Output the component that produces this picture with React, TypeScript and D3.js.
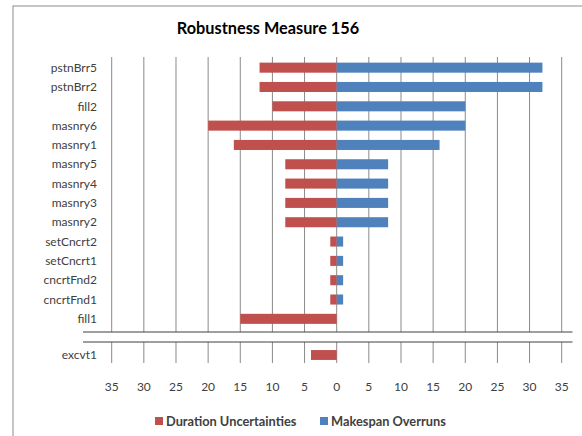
import React from "react";
import * as d3 from "d3";

const upperCategories = [
  "pstnBrr5", "pstnBrr2", "fill2", "masnry6", "masnry1", "masnry5", "masnry4",
  "masnry3", "masnry2", "setCncrt2", "setCncrt1", "cncrtFnd2", "cncrtFnd1", "fill1",
];
const upperDuration = [12, 12, 10, 20, 16, 8, 8, 8, 8, 1, 1, 1, 1, 15];
const upperMakespan = [32, 32, 20, 20, 16, 8, 8, 8, 8, 1, 1, 1, 1, 0];

const lowerCategories = ["excvt1"];
const lowerDuration = [4];
const lowerMakespan = [0];

const tickValues = [-35, -30, -25, -20, -15, -10, -5, 0, 5, 10, 15, 20, 25, 30, 35];
const seriesNames = ["Duration Uncertainties", "Makespan Overruns"];
const colors = ["#C0504D", "#4F81BD"];

const FONT = "Lato, 'Open Sans', sans-serif";

export default function App() {
  const W = 582, H = 436;
  const x = d3.scaleLinear().domain([-35, 35]).range([111.7, 561.7]);
  const yU = d3.scaleBand().domain(upperCategories).range([58, 328.5]).paddingInner(0.48).paddingOuter(0.24);
  const yL = d3.scaleBand().domain(lowerCategories).range([345.5, 364.5]).paddingInner(0.48).paddingOuter(0.24);

  const gridTopA = 57, gridBotA = 332, gridTopB = 342, gridBotB = 363;

  const bars = (cats: string[], dur: number[], mk: number[], y: d3.ScaleBand<string>) =>
    cats.map((c, i) => (
      <g key={c}>
        <rect x={x(-dur[i])} y={y(c)!} width={x(0) - x(-dur[i])} height={y.bandwidth()} fill={colors[0]} />
        {mk[i] > 0 && (
          <rect x={x(0)} y={y(c)!} width={x(mk[i]) - x(0)} height={y.bandwidth()} fill={colors[1]} />
        )}
        <text x={97} y={y(c)! + y.bandwidth() / 2} dy="0.35em" textAnchor="end" fontSize={12} fill="#404040" fontFamily={FONT}>
          {c}
        </text>
      </g>
    ));

  return (
    <svg width={W} height={H} style={{ position: "absolute", left: 0, top: 0, background: "#fff" }}>
      <rect x={13} y={6} width={W} height={H} fill="#fff" stroke="#8c8c8c" strokeWidth={1} />
      <text x={268} y={34} textAnchor="middle" fontSize={16.3} fontWeight="bold" fill="#000" fontFamily={FONT}>
        Robustness Measure 156
      </text>
      {tickValues.map((t) => (
        <g key={t}>
          <line x1={x(t)} x2={x(t)} y1={gridTopA} y2={gridBotA} stroke="#8a8a8a" strokeWidth={1} />
          <line x1={x(t)} x2={x(t)} y1={gridTopB} y2={gridBotB} stroke="#8a8a8a" strokeWidth={1} />
          <text x={x(t)} y={387} dy="0.35em" textAnchor="middle" fontSize={12} fill="#404040" fontFamily={FONT}>
            {Math.abs(t)}
          </text>
        </g>
      ))}
      {bars(upperCategories, upperDuration, upperMakespan, yU)}
      {bars(lowerCategories, lowerDuration, lowerMakespan, yL)}
      <line x1={83} x2={572.5} y1={332} y2={332} stroke="#404040" strokeWidth={1.2} />
      <line x1={83} x2={572.5} y1={342} y2={342} stroke="#404040" strokeWidth={1.2} />
      {seriesNames.map((s, i) => {
        const lx = i === 0 ? 155 : 320;
        return (
          <g key={s}>
            <rect x={lx} y={417} width={8} height={8} fill={colors[i]} />
            <text x={lx + 11} y={421.5} dy="0.35em" fontSize={12.8} fontWeight="bold" fill="#404040" fontFamily={FONT}>
              {s}
            </text>
          </g>
        );
      })}
    </svg>
  );
}
